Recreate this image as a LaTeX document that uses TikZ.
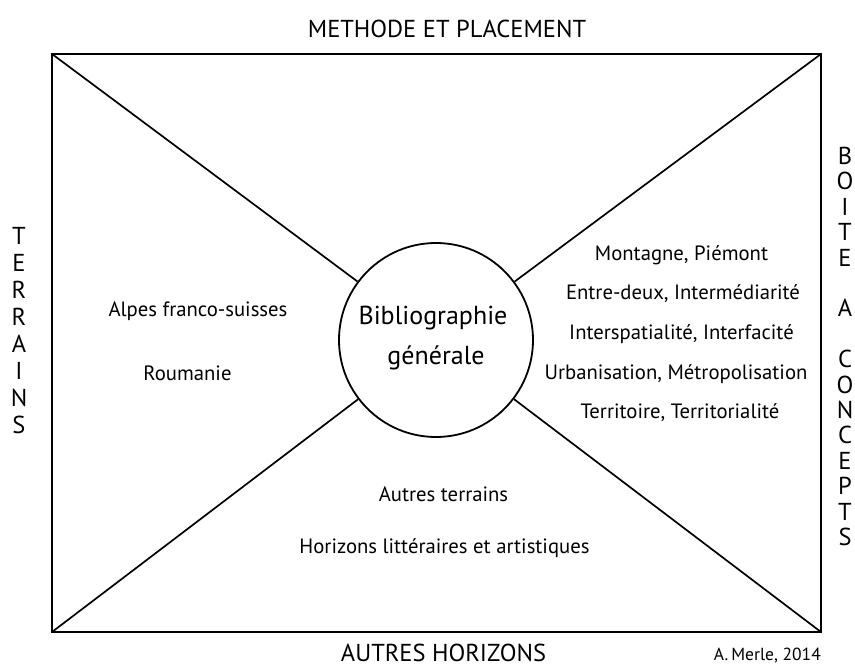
\documentclass[tikz,border=0pt]{standalone}
\usepackage{fontspec}
\setmainfont{PT Sans}
\begin{document}
\begin{tikzpicture}[x=1pt,y=-1pt,
  frame/.style={line width=2.2pt},
  spoke/.style={line width=1.7pt},
  lbl/.style={inner sep=0pt,anchor=base,font=\fontsize{20.7}{24}\selectfont},
  captxt/.style={inner sep=0pt,anchor=base,font=\fontsize{24.5}{28}\selectfont},
  bib/.style={inner sep=0pt,anchor=base,font=\fontsize{26}{30}\selectfont}]
\useasboundingbox (0,0) rectangle (855,668);
\coordinate (tl) at (52,54);
\coordinate (tr) at (821,54);
\coordinate (br) at (821,632);
\coordinate (bl) at (52,632);
\draw[frame] (tl) -- (tr) -- (br) -- (bl) -- cycle;
\node[circle,draw,line width=1.8pt,minimum size=194pt,inner sep=0pt] (c) at (436,340) {};
\draw[spoke] (tl) -- (c);
\draw[spoke] (tr) -- (c);
\draw[spoke] (br) -- (c);
\draw[spoke] (bl) -- (c);
\node[bib] (bib1) at (433,325) {Bibliographie};
\node[bib] (bib2) at (436,365) {générale};
\node[captxt] (top) at (447,38) {METHODE ET PLACEMENT};
\node[captxt] (bot) at (443.5,661) {AUTRES HORIZONS};
\node[inner sep=0pt,anchor=base east,font=\fontsize{17.5}{20}\selectfont] (auth) at (821,660) {A.\,Merle, 2014};
\foreach \ch [count=\i] in {T,E,R,R,A,I,N,S}
  \node[captxt] (terr\i) at (19,{245+27*(\i-1)}) {\ch};
\foreach \ch/\u [count=\i] in {B/0,O/1,I/2,T/3,E/4,A/6,C/8,O/9,N/10,C/11,E/12,P/13,T/14,S/15}
  \node[captxt] (boite\i) at (845,{164.5+25.4*\u}) {\ch};
\node[lbl] (alpes) at (198,317) {Alpes franco-suisses};
\node[lbl] (roum) at (187.5,381) {Roumanie};
\node[lbl] (m1) at (681.5,261) {Montagne, Piémont};
\node[lbl] (m2) at (683,300) {Entre-deux, Intermédiarité};
\node[lbl] (m3) at (681.5,340) {Interspatialité, Interfacité};
\node[lbl] (m4) at (676,380) {Urbanisation, Métropolisation};
\node[lbl] (m5) at (680,419) {Territoire, Territorialité};
\node[lbl] (b1) at (443.5,502) {Autres terrains};
\node[lbl] (b2) at (444.5,554) {Horizons littéraires et artistiques};
\end{tikzpicture}
\end{document}
